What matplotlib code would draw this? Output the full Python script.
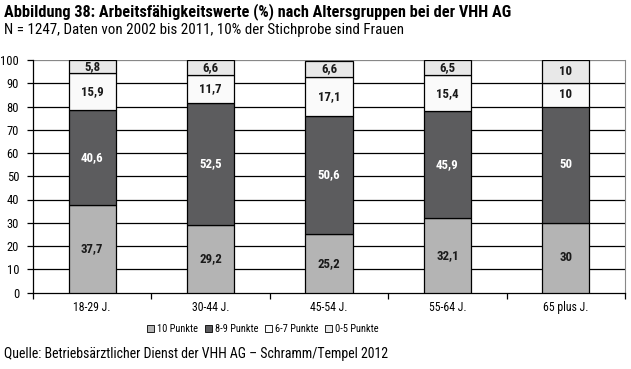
import matplotlib
matplotlib.use("Agg")
import matplotlib.pyplot as plt
import numpy as np

plt.rcParams['font.family'] = ['Roboto Condensed', 'DejaVu Sans']

gruppen = ['18-29 J.', '30-44 J.', '45-54 J.', '55-64 J.', '65 plus J.']
serien = ['10 Punkte', '8-9 Punkte', '6-7 Punkte', '0-5 Punkte']
werte = {
    '10 Punkte': [37.7, 29.2, 25.2, 32.1, 30],
    '8-9 Punkte': [40.6, 52.5, 50.6, 45.9, 50],
    '6-7 Punkte': [15.9, 11.7, 17.1, 15.4, 10],
    '0-5 Punkte': [5.8, 6.6, 6.6, 6.5, 10],
}
labels = {
    '10 Punkte': ['37,7', '29,2', '25,2', '32,1', '30'],
    '8-9 Punkte': ['40,6', '52,5', '50,6', '45,9', '50'],
    '6-7 Punkte': ['15,9', '11,7', '17,1', '15,4', '10'],
    '0-5 Punkte': ['5,8', '6,6', '6,6', '6,5', '10'],
}
farben = {'10 Punkte': '#b4b4b4', '8-9 Punkte': '#5c5c5e',
          '6-7 Punkte': '#fafafa', '0-5 Punkte': '#e8e8e8'}
textfarbe = {'10 Punkte': '#1a1a1a', '8-9 Punkte': 'white',
             '6-7 Punkte': '#1a1a1a', '0-5 Punkte': '#1a1a1a'}

fig = plt.figure(figsize=(6.31, 3.69), dpi=100)
ax = fig.add_axes([33/631, 1 - 292.5/369, 592/631, 232.5/369])

x = np.arange(len(gruppen))
unten = np.zeros(len(gruppen))
for s in serien:
    v = np.array(werte[s])
    ax.bar(x, v, 0.4, bottom=unten, color=farben[s], edgecolor='black',
           linewidth=0.9, label=s, zorder=3)
    for xi, b, h, t in zip(x, unten, v, labels[s]):
        ax.text(xi, b + h / 2, t, ha='center', va='center', fontsize=9.3,
                fontweight='bold', color=textfarbe[s], zorder=4)
    unten += v

ax.set_xlim(-0.5, len(gruppen) - 0.5)
ax.set_ylim(0, 100)
ax.set_yticks(range(0, 101, 10))
for yy in range(10, 100, 10):
    ax.axhline(yy, color='black', linewidth=0.9, zorder=1)
ax.axhline(100, color='#888888', linewidth=0.9, zorder=1)

ax.set_xticks(x)
ax.set_xticklabels(gruppen, fontsize=8.5)
ax.set_xticks(np.arange(-0.5, len(gruppen)), minor=True)
ax.tick_params(axis='x', which='major', length=0, pad=6)
ax.tick_params(axis='x', which='minor', length=4, width=0.9, direction='out')
ax.tick_params(axis='y', labelsize=9, length=4, width=0.9, pad=6)

ax.spines['top'].set_visible(False)
ax.spines['right'].set_color('#888888')
ax.spines['left'].set_linewidth(0.9)
ax.spines['bottom'].set_linewidth(0.9)

leg = fig.legend(loc='center', bbox_to_anchor=(263/631, 1 - 329/369), ncol=4,
                 frameon=False, fontsize=7.5, handlelength=0.7, handleheight=0.7,
                 handletextpad=0.3, columnspacing=0.6)
for h in leg.legend_handles:
    h.set_linewidth(0.6)

fig.text(4/631, 1 - 12/369, 'Abbildung 38: Arbeitsfähigkeitswerte (%) nach Altersgruppen bei der VHH AG',
         fontsize=11.7, fontweight='bold', va='center')
fig.text(4/631, 1 - 30/369, 'N = 1247, Daten von 2002 bis 2011, 10% der Stichprobe sind Frauen',
         fontsize=10.8, va='center')
fig.text(4/631, 1 - 354/369, 'Quelle: Betriebsärztlicher Dienst der VHH AG – Schramm/Tempel 2012',
         fontsize=10, va='center')

fig.savefig('out.png', dpi=100)
